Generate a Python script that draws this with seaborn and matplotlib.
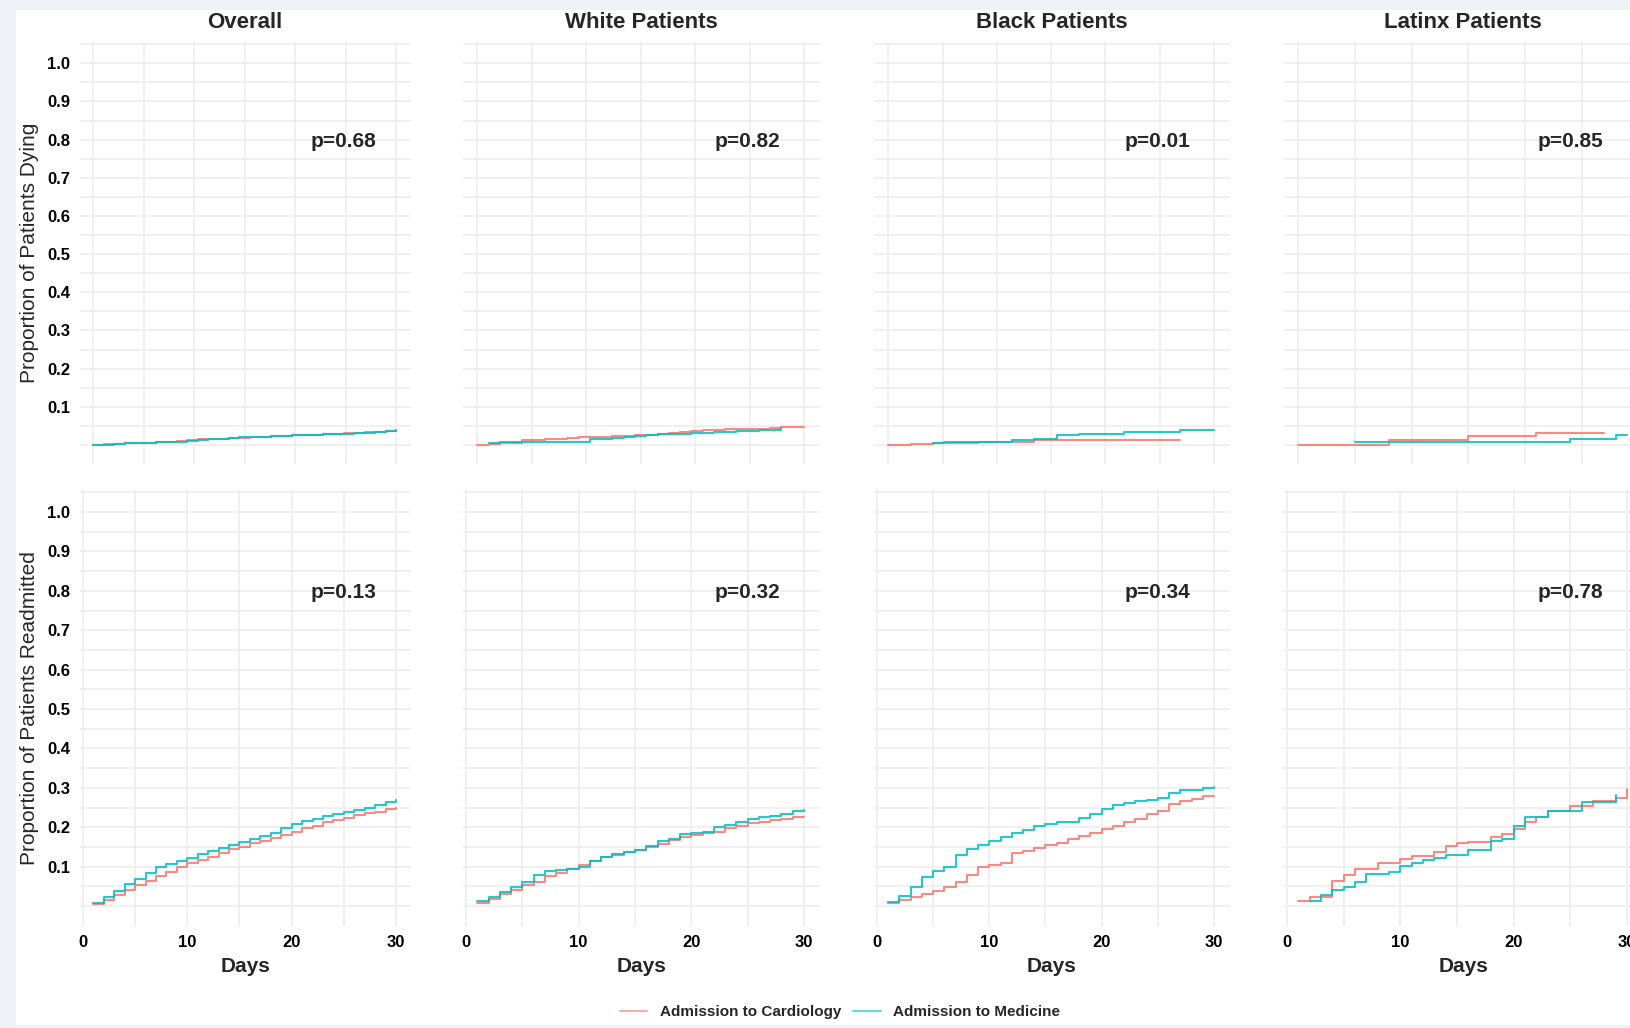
import numpy as np
import pandas as pd
import matplotlib
matplotlib.use('Agg')
import matplotlib.pyplot as plt
from matplotlib.patches import Rectangle
from matplotlib.lines import Line2D
import seaborn as sns

days = list(range(1, 31))
panels = ['Overall', 'White Patients', 'Black Patients', 'Latinx Patients']
groups = ['Admission to Cardiology', 'Admission to Medicine']
colors = ['#F8766D', '#00BFC4']
row_labels = ['Proportion of Patients Dying', 'Proportion of Patients Readmitted']
p_dying = ['p=0.68', 'p=0.82', 'p=0.01', 'p=0.85']
p_readmit = ['p=0.13', 'p=0.32', 'p=0.34', 'p=0.78']
N = None

# 30-day mortality (cumulative proportion per day)
dying_overall_cardio = [0.000, 0.002, 0.003, 0.004, 0.005, 0.006, 0.007, 0.009, 0.010, 0.013,
                        0.015, 0.016, 0.017, 0.018, 0.019, 0.021, 0.022, 0.023, 0.024, 0.025,
                        0.026, 0.027, 0.028, 0.030, 0.031, 0.032, 0.033, 0.035, 0.037, 0.038]
dying_overall_med = [0.000, 0.001, 0.002, 0.004, 0.005, 0.006, 0.007, 0.008, 0.009, 0.011,
                     0.013, 0.015, 0.017, 0.018, 0.020, 0.021, 0.022, 0.023, 0.024, 0.025,
                     0.026, 0.027, 0.028, 0.029, 0.030, 0.031, 0.032, 0.034, 0.036, 0.038]
dying_white_cardio = [0.000, 0.002, 0.004, 0.006, 0.012, 0.013, 0.015, 0.017, 0.019, 0.020,
                      0.021, 0.022, 0.023, 0.024, 0.025, 0.026, 0.029, 0.031, 0.034, 0.037,
                      0.038, 0.039, 0.041, 0.041, 0.042, 0.042, 0.044, 0.047, 0.047, 0.047]
dying_white_med = [N, 0.004, 0.007, 0.008, 0.008, 0.008, 0.008, 0.008, 0.008, 0.008,
                   0.015, 0.017, 0.019, 0.021, 0.024, 0.026, 0.028, 0.029, 0.030, 0.032,
                   0.032, 0.033, 0.034, 0.036, 0.037, 0.038, 0.040, 0.045, N, N]
dying_black_cardio = [0.000, 0.000, 0.003, 0.003, 0.004, 0.006, 0.006, 0.006, 0.008, 0.008,
                      0.008, 0.008, 0.008, 0.013, 0.013, 0.013, 0.013, 0.013, 0.013, 0.013,
                      0.013, 0.013, 0.013, 0.013, 0.013, 0.013, 0.013, N, N, N]
dying_black_med = [N, N, N, N, 0.004, 0.008, 0.008, 0.008, 0.008, 0.008,
                   0.008, 0.012, 0.012, 0.017, 0.017, 0.025, 0.025, 0.030, 0.030, 0.030,
                   0.030, 0.034, 0.034, 0.034, 0.034, 0.034, 0.039, 0.039, 0.039, 0.039]
dying_latinx_cardio = [0.000, 0.000, 0.000, 0.000, 0.000, 0.000, 0.000, 0.000, 0.013, 0.013,
                       0.013, 0.013, 0.013, 0.013, 0.013, 0.024, 0.024, 0.024, 0.024, 0.024,
                       0.024, 0.032, 0.032, 0.032, 0.032, 0.032, 0.032, 0.032, N, N]
dying_latinx_med = [N, N, N, N, N, 0.007, 0.007, 0.007, 0.007, 0.007,
                    0.007, 0.007, 0.007, 0.007, 0.007, 0.007, 0.007, 0.007, 0.007, 0.007,
                    0.007, 0.007, 0.007, 0.007, 0.016, 0.016, 0.016, 0.016, 0.026, 0.026]

# 30-day readmission
readmit_overall_cardio = [0.004, 0.014, 0.028, 0.041, 0.053, 0.064, 0.076, 0.087, 0.100, 0.108,
                          0.117, 0.125, 0.134, 0.144, 0.151, 0.159, 0.166, 0.173, 0.180, 0.189,
                          0.197, 0.204, 0.212, 0.218, 0.224, 0.231, 0.235, 0.239, 0.245, 0.250]
readmit_overall_med = [0.008, 0.024, 0.038, 0.055, 0.069, 0.083, 0.100, 0.107, 0.114, 0.123,
                       0.131, 0.140, 0.148, 0.155, 0.163, 0.169, 0.178, 0.186, 0.197, 0.207,
                       0.216, 0.222, 0.228, 0.233, 0.238, 0.244, 0.250, 0.256, 0.263, 0.269]
readmit_white_cardio = [0.007, 0.019, 0.030, 0.041, 0.053, 0.062, 0.075, 0.085, 0.093, 0.103,
                        0.113, 0.124, 0.130, 0.136, 0.142, 0.151, 0.158, 0.168, 0.176, 0.180,
                        0.185, 0.189, 0.197, 0.203, 0.210, 0.214, 0.219, 0.221, 0.225, 0.227]
readmit_white_med = [0.013, 0.024, 0.035, 0.047, 0.062, 0.079, 0.090, 0.092, 0.094, 0.100,
                     0.113, 0.125, 0.131, 0.136, 0.142, 0.153, 0.166, 0.170, 0.182, 0.185,
                     0.189, 0.200, 0.206, 0.214, 0.221, 0.225, 0.229, 0.234, 0.240, 0.244]
readmit_black_cardio = [0.008, 0.014, 0.024, 0.030, 0.038, 0.049, 0.062, 0.078, 0.099, 0.104,
                        0.110, 0.134, 0.140, 0.148, 0.154, 0.161, 0.169, 0.178, 0.185, 0.195,
                        0.203, 0.212, 0.222, 0.233, 0.242, 0.259, 0.267, 0.271, 0.278, 0.280]
readmit_black_med = [0.011, 0.025, 0.049, 0.074, 0.089, 0.100, 0.130, 0.144, 0.155, 0.165,
                     0.176, 0.186, 0.192, 0.203, 0.207, 0.213, 0.214, 0.224, 0.234, 0.245,
                     0.256, 0.262, 0.267, 0.269, 0.273, 0.288, 0.294, 0.295, 0.300, 0.301]
readmit_latinx_cardio = [0.013, 0.024, 0.024, 0.064, 0.079, 0.095, 0.095, 0.108, 0.108, 0.119,
                         0.127, 0.127, 0.136, 0.153, 0.159, 0.163, 0.163, 0.174, 0.182, 0.195,
                         0.212, 0.227, 0.242, 0.242, 0.254, 0.254, 0.267, 0.267, 0.275, 0.298]
readmit_latinx_med = [N, 0.013, 0.027, 0.041, 0.049, 0.062, 0.081, 0.081, 0.087, 0.102,
                      0.108, 0.116, 0.123, 0.129, 0.129, 0.142, 0.142, 0.165, 0.169, 0.203,
                      0.225, 0.225, 0.242, 0.242, 0.242, 0.264, 0.264, 0.264, 0.282, N]

series = {
    ('dying', 0): (dying_overall_cardio, dying_overall_med),
    ('dying', 1): (dying_white_cardio, dying_white_med),
    ('dying', 2): (dying_black_cardio, dying_black_med),
    ('dying', 3): (dying_latinx_cardio, dying_latinx_med),
    ('readmit', 0): (readmit_overall_cardio, readmit_overall_med),
    ('readmit', 1): (readmit_white_cardio, readmit_white_med),
    ('readmit', 2): (readmit_black_cardio, readmit_black_med),
    ('readmit', 3): (readmit_latinx_cardio, readmit_latinx_med),
}

rows = []
for (outcome, col), (cardio, med) in series.items():
    for g, vals in zip(groups, (cardio, med)):
        for d, v in zip(days, vals):
            if v is not None:
                rows.append({'outcome': outcome, 'col': col, 'group': g, 'day': d, 'prop': v})
df = pd.DataFrame(rows)

sns.set_theme(style='white')
plt.rcParams['font.family'] = ['Liberation Sans', 'DejaVu Sans']

W, H = 1631, 1028
fig = plt.figure(figsize=(W / 100, H / 100), dpi=100)
fig.patch.set_facecolor('#eef2f7')
fig.add_artist(Rectangle((16 / W, 1 - 1025 / H), 1.0, (1025 - 10) / H,
                         transform=fig.transFigure, facecolor='white',
                         edgecolor='none', zorder=-10))

# pixel position of day 0 and day 30 for each column
col_px = [(83, 396), (466, 804), (877, 1214), (1287, 1627)]
# pixel position of y=0 and y=1 for each row
row_px = [(445, 63.3), (906, 512)]
xlim = (-0.3, 31.4)
ylim = (-0.05, 1.055)
grid_col = '#ededed'

for r, outcome in enumerate(['dying', 'readmit']):
    y0, y1 = row_px[r]
    sy = y0 - y1
    top = y0 - ylim[1] * sy
    bot = y0 - ylim[0] * sy
    for c in range(4):
        x0, x30 = col_px[c]
        sx = (x30 - x0) / 30
        left = x0 + xlim[0] * sx
        right = x0 + xlim[1] * sx
        ax = fig.add_axes([left / W, 1 - bot / H, (right - left) / W, (bot - top) / H])
        sub = df[(df.outcome == outcome) & (df.col == c)]
        sns.lineplot(data=sub, x='day', y='prop', hue='group', hue_order=groups,
                     palette=colors, estimator=None, drawstyle='steps-post',
                     linewidth=1.5, alpha=0.85, legend=False, ax=ax)
        ax.set_xlim(*xlim)
        ax.set_ylim(*ylim)
        ax.set_xlabel('')
        ax.set_ylabel('')
        for s in ax.spines.values():
            s.set_visible(False)

        ax.set_yticks(np.arange(0.1, 1.01, 0.1))
        ax.set_yticks(np.arange(0, 1.06, 0.05), minor=True)
        if c == 0:
            ax.set_yticklabels([f'{v:.1f}' for v in np.arange(0.1, 1.01, 0.1)],
                               fontsize=12, fontweight='bold')
        else:
            ax.set_yticklabels([])

        if r == 0:
            if c == 3:
                ax.set_xticks([1, 6, 11, 16, 21, 26, 31])
            else:
                ax.set_xticks(np.linspace(1, 30, 7))
            ax.set_xticklabels([])
        else:
            ax.set_xticks([0, 10, 20, 30])
            ax.set_xticks([5, 15, 25], minor=True)
            ax.set_xticklabels(['0', '10', '20', '30'], fontsize=12, fontweight='bold')
        ax.tick_params(axis='both', which='both', length=0, pad=7, colors='black')
        ax.grid(True, which='both', color=grid_col, linewidth=1.2)
        ax.set_axisbelow(True)

        ptxt = p_dying[c] if r == 0 else p_readmit[c]
        ax.text(25, 0.795, ptxt, ha='center', va='center', fontsize=15, fontweight='bold')

        cx = (left + right) / 2
        if r == 0:
            fig.text(cx / W, 1 - 22 / H, panels[c], ha='center', va='center',
                     fontsize=16, fontweight='bold')
        else:
            fig.text(cx / W, 1 - 967 / H, 'Days', ha='center', va='center',
                     fontsize=15, fontweight='bold')

    fig.text(30 / W, 1 - ((top + bot) / 2) / H, row_labels[r], rotation=90,
             ha='center', va='center', fontsize=15)

handles = [Line2D([0], [0], color=colors[i], lw=1.5, alpha=0.6) for i in range(2)]
fig.legend(handles, groups, loc='center', bbox_to_anchor=(840 / W, 1 - 1012 / H),
           ncol=2, frameon=False, prop={'size': 11, 'weight': 'bold'},
           handlelength=1.8, handletextpad=0.8, columnspacing=0.8)

fig.savefig('out.png', dpi=100)
